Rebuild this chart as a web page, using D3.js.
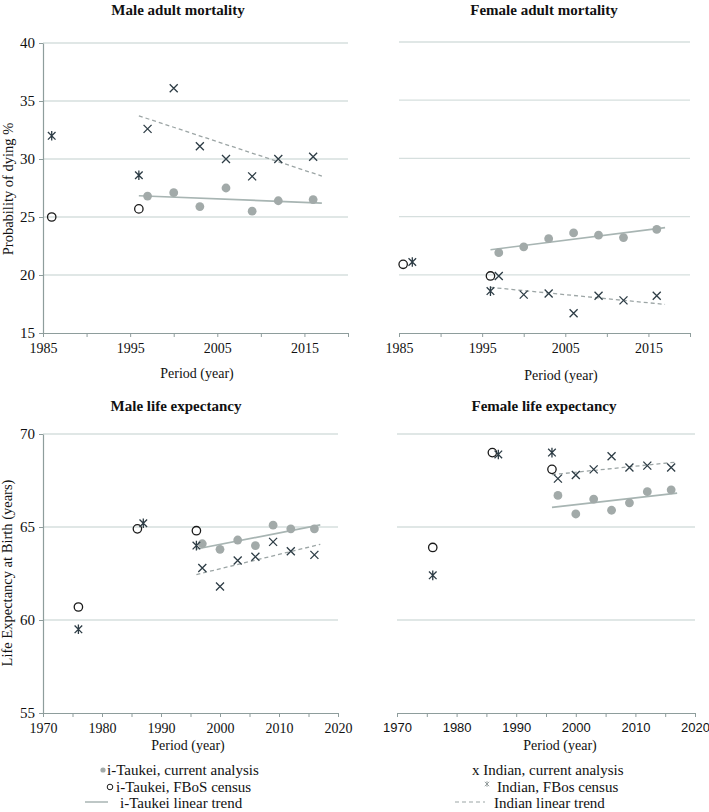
<!DOCTYPE html>
<html><head><meta charset="utf-8">
<script src="https://cdn.jsdelivr.net/npm/d3@7"></script>
<style>
body{margin:0;background:#fff}
svg{display:block}
text{font-family:"Liberation Serif","Times New Roman",serif;fill:#111}
</style>
</head><body><svg id="c" width="709" height="812"></svg>
<script>
// ---------------- DATA ----------------
const analysisYears = [1997, 2000, 2003, 2006, 2009, 2012, 2016];
const trendSpan = [1996, 2017];

// Male adult mortality (probability of dying %)
const maleAM_iTaukei = [26.8, 27.1, 25.9, 27.5, 25.5, 26.4, 26.5];
const maleAM_indian  = [32.6, 36.1, 31.1, 30.0, 28.5, 30.0, 30.2];
const maleAM_iTaukeiCensusYears = [1986, 1996];
const maleAM_iTaukeiCensus      = [25.0, 25.7];
const maleAM_indianCensusYears  = [1986, 1996];
const maleAM_indianCensus       = [32.0, 28.6];

// Female adult mortality
const femaleAM_iTaukei = [21.9, 22.4, 23.1, 23.6, 23.4, 23.2, 23.9];
const femaleAM_indian  = [19.9, 18.3, 18.4, 16.7, 18.2, 17.8, 18.2];
const femaleAM_iTaukeiCensusYears = [1985.5, 1996];
const femaleAM_iTaukeiCensus      = [20.9, 19.9];
const femaleAM_indianCensusYears  = [1986.6, 1996];
const femaleAM_indianCensus       = [21.1, 18.6];

// Male life expectancy (years)
const maleLE_iTaukei = [64.1, 63.8, 64.3, 64.0, 65.1, 64.9, 64.9];
const maleLE_indian  = [62.8, 61.8, 63.2, 63.4, 64.2, 63.7, 63.5];
const maleLE_iTaukeiCensusYears = [1976, 1986, 1996];
const maleLE_iTaukeiCensus      = [60.7, 64.9, 64.8];
const maleLE_indianCensusYears  = [1976, 1987, 1996];
const maleLE_indianCensus       = [59.5, 65.2, 64.0];

// Female life expectancy
const femaleLE_iTaukei = [66.7, 65.7, 66.5, 65.9, 66.3, 66.9, 67.0];
const femaleLE_indian  = [67.6, 67.8, 68.1, 68.8, 68.2, 68.3, 68.2];
const femaleLE_iTaukeiCensusYears = [1976, 1986, 1996];
const femaleLE_iTaukeiCensus      = [63.9, 69.0, 68.1];
const femaleLE_indianCensusYears  = [1976, 1987, 1996];
const femaleLE_indianCensus       = [62.4, 68.9, 69.0];

// Axis ticks / labels
const mortYTicks = [15, 20, 25, 30, 35, 40];
const mortXTicks = [1985, 1990, 1995, 2000, 2005, 2010, 2015, 2020];
const mortXLabels = [1985, 1995, 2005, 2015];
const leYTicks = [55, 60, 65, 70];
const leXTicks = [1970, 1975, 1980, 1985, 1990, 1995, 2000, 2005, 2010, 2015, 2020];
const leXLabels = [1970, 1980, 1990, 2000, 2010, 2020];

const titles = ["Male adult mortality", "Female adult mortality", "Male life expectancy", "Female life expectancy"];
const xTitle = "Period (year)";
const yTitleMort = "Probability of dying %";
const yTitleLE = "Life Expectancy at Birth (years)";
const legendLeft = ["i-Taukei, current analysis", "i-Taukei, FBoS census", "i-Taukei linear trend"];
const legendRight = ["x Indian, current analysis", "Indian, FBos census", "Indian linear trend"];

// ---------------- STYLE ----------------
const C = {
  grid: "#d6dfde", axis: "#8e9d9c", dot: "#a2aaa9", cross: "#2d3c45",
  trendT: "#a8b5b3", trendI: "#9ca5a5"
};
const SERIF = "'Liberation Serif','Times New Roman',serif";

const svg = d3.select("#c");

function linReg(xs, ys) {
  const n = xs.length, mx = d3.mean(xs), my = d3.mean(ys);
  let sxy = 0, sxx = 0;
  for (let i = 0; i < n; i++) { sxy += (xs[i]-mx)*(ys[i]-my); sxx += (xs[i]-mx)**2; }
  const b = sxy / sxx; return x => my + b*(x - mx);
}

function panel(cfg) {
  const x = d3.scaleLinear().domain(cfg.xDom).range([cfg.x0, cfg.x1]);
  const y = d3.scaleLinear().domain(cfg.yDom).range([cfg.yB, cfg.yT]);
  const g = svg.append("g");

  // gridlines
  g.selectAll("line.grid").data(cfg.yTicks.filter(v => v !== cfg.yDom[0])).enter()
    .append("line").attr("x1", cfg.x0).attr("x2", cfg.x1)
    .attr("y1", d => y(d)).attr("y2", d => y(d))
    .attr("stroke", C.grid).attr("stroke-width", 1.3);

  // x axis
  const xa = g.append("g").attr("transform", `translate(0,${cfg.yB})`)
    .call(d3.axisBottom(x).tickValues(cfg.xTicks).tickSizeInner(4).tickSizeOuter(0).tickPadding(6)
      .tickFormat(d => cfg.xLabels.includes(d) ? String(d) : ""));
  xa.attr("font-family", null);
  xa.select(".domain").attr("stroke", C.axis).attr("stroke-width", 1.2);
  xa.selectAll(".tick line").attr("stroke", C.axis);
  xa.selectAll(".tick text").attr("fill", "#111")
    .style("font-family", cfg.xSans ? "'Liberation Sans',Arial,sans-serif" : SERIF)
    .style("font-size", cfg.xFont + "px");

  // y axis
  if (cfg.yAxis) {
    const ya = g.append("g").attr("transform", `translate(${cfg.x0},0)`)
      .call(d3.axisLeft(y).tickValues(cfg.yTicks).tickSizeInner(4).tickSizeOuter(0).tickPadding(4).tickFormat(d3.format("d")));
    ya.attr("font-family", null);
    ya.select(".domain").attr("stroke", C.axis).attr("stroke-width", 1.2);
    ya.selectAll(".tick line").attr("stroke", C.axis);
    ya.selectAll(".tick text").attr("fill", "#111").style("font-family", SERIF).style("font-size", "15px");
    g.append("text").attr("transform", `translate(${cfg.yTitleX},${cfg.yTitleY}) rotate(-90)`)
      .attr("text-anchor", "middle").style("font-size", "14.5px").text(cfg.yTitle);
  }

  // titles
  g.append("text").attr("x", cfg.titleX).attr("y", cfg.titleY).attr("text-anchor", "middle")
    .style("font-size", "15px").style("font-weight", "bold").text(cfg.title);
  g.append("text").attr("x", cfg.xTitleX).attr("y", cfg.xTitleY).attr("text-anchor", "middle")
    .style("font-size", "14px").text(xTitle);

  // trend lines
  const fT = linReg(analysisYears, cfg.iTaukei), fI = linReg(analysisYears, cfg.indian);
  g.append("line").attr("x1", x(trendSpan[0])).attr("x2", x(trendSpan[1]))
    .attr("y1", y(fT(trendSpan[0]))).attr("y2", y(fT(trendSpan[1])))
    .attr("stroke", C.trendT).attr("stroke-width", 1.7);
  g.append("line").attr("x1", x(trendSpan[0])).attr("x2", x(trendSpan[1]))
    .attr("y1", y(fI(trendSpan[0]))).attr("y2", y(fI(trendSpan[1])))
    .attr("stroke", C.trendI).attr("stroke-width", 1.3).attr("stroke-dasharray", "4,3");

  // i-Taukei current (filled dots)
  g.selectAll("circle.dot").data(analysisYears.map((yr, i) => [yr, cfg.iTaukei[i]])).enter()
    .append("circle").attr("cx", d => x(d[0])).attr("cy", d => y(d[1])).attr("r", 4.4).attr("fill", C.dot);
  // i-Taukei census (open circles)
  g.selectAll("circle.open").data(cfg.tcYears.map((yr, i) => [yr, cfg.tc[i]])).enter()
    .append("circle").attr("cx", d => x(d[0])).attr("cy", d => y(d[1])).attr("r", 4.2)
    .attr("fill", "none").attr("stroke", "#1a1a1a").attr("stroke-width", 1.3);
  // Indian current (x)
  g.selectAll("path.x").data(analysisYears.map((yr, i) => [yr, cfg.indian[i]])).enter()
    .append("path").attr("transform", d => `translate(${x(d[0])},${y(d[1])})`)
    .attr("d", "M-4,-4L4,4M4,-4L-4,4").attr("stroke", C.cross).attr("stroke-width", 1.3).attr("fill", "none");
  // Indian census (asterisk)
  g.selectAll("path.ast").data(cfg.icYears.map((yr, i) => [yr, cfg.ic[i]])).enter()
    .append("path").attr("transform", d => `translate(${x(d[0])},${y(d[1])})`)
    .attr("d", "M-3.8,-3.8L3.8,3.8M3.8,-3.8L-3.8,3.8M0,-4.8V4.8").attr("stroke", C.cross).attr("stroke-width", 1.3).attr("fill", "none");
}

panel({x0: 43, x1: 348, yB: 333, yT: 43, xDom: [1985, 2020], yDom: [15, 40],
  yTicks: mortYTicks, xTicks: mortXTicks, xLabels: mortXLabels, xFont: 14, yAxis: true,
  yTitle: yTitleMort, yTitleX: 13, yTitleY: 189, title: titles[0], titleX: 178, titleY: 15,
  xTitleX: 197, xTitleY: 378,
  iTaukei: maleAM_iTaukei, indian: maleAM_indian,
  tcYears: maleAM_iTaukeiCensusYears, tc: maleAM_iTaukeiCensus,
  icYears: maleAM_indianCensusYears, ic: maleAM_indianCensus});

panel({x0: 399, x1: 690, yB: 333, yT: 42, xDom: [1985, 2020], yDom: [15, 40],
  yTicks: mortYTicks, xTicks: mortXTicks, xLabels: mortXLabels, xFont: 14, yAxis: false,
  title: titles[1], titleX: 544, titleY: 15, xTitleX: 561, xTitleY: 380,
  iTaukei: femaleAM_iTaukei, indian: femaleAM_indian,
  tcYears: femaleAM_iTaukeiCensusYears, tc: femaleAM_iTaukeiCensus,
  icYears: femaleAM_indianCensusYears, ic: femaleAM_indianCensus});

panel({x0: 43, x1: 338, yB: 713, yT: 434, xDom: [1970, 2020], yDom: [55, 70],
  yTicks: leYTicks, xTicks: leXTicks, xLabels: leXLabels, xFont: 14, yAxis: true,
  yTitle: yTitleLE, yTitleX: 12, yTitleY: 573, title: titles[2], titleX: 176, titleY: 411,
  xTitleX: 188, xTitleY: 750,
  iTaukei: maleLE_iTaukei, indian: maleLE_indian,
  tcYears: maleLE_iTaukeiCensusYears, tc: maleLE_iTaukeiCensus,
  icYears: maleLE_indianCensusYears, ic: maleLE_indianCensus});

panel({x0: 397, x1: 695, yB: 713, yT: 434, xDom: [1970, 2020], yDom: [55, 70],
  yTicks: leYTicks, xTicks: leXTicks, xLabels: leXLabels, xFont: 13, xSans: true, yAxis: false,
  title: titles[3], titleX: 544, titleY: 411, xTitleX: 560, xTitleY: 750,
  iTaukei: femaleLE_iTaukei, indian: femaleLE_indian,
  tcYears: femaleLE_iTaukeiCensusYears, tc: femaleLE_iTaukeiCensus,
  icYears: femaleLE_indianCensusYears, ic: femaleLE_indianCensus});

// ---------------- LEGEND ----------------
const legY = [770, 787, 803];
const lg = svg.append("g").style("font-size", "15px");
lg.append("circle").attr("cx", 103).attr("cy", legY[0]).attr("r", 2.6).attr("fill", C.dot);
lg.append("text").attr("x", 107).attr("y", legY[0] + 5).text(legendLeft[0]);
lg.append("circle").attr("cx", 110).attr("cy", legY[1]).attr("r", 2.8).attr("fill", "none").attr("stroke", "#1a1a1a").attr("stroke-width", 1);
lg.append("text").attr("x", 116).attr("y", legY[1] + 5).text(legendLeft[1]);
lg.append("line").attr("x1", 85).attr("x2", 108).attr("y1", legY[2] - 1).attr("y2", legY[2] - 1).attr("stroke", C.trendT).attr("stroke-width", 1.5);
lg.append("text").attr("x", 120).attr("y", legY[2] + 4.5).text(legendLeft[2]);

lg.append("text").attr("x", 472).attr("y", legY[0] + 5).text(legendRight[0]);
lg.append("path").attr("transform", `translate(487,${legY[1] - 3})`)
  .attr("d", "M-2.2,-2.2L2.2,2.2M2.2,-2.2L-2.2,2.2M0,-2.8V2.8").attr("stroke", "#8d9696").attr("stroke-width", 0.9);
lg.append("text").attr("x", 497).attr("y", legY[1] + 5).text(legendRight[1]);
lg.append("line").attr("x1", 455).attr("x2", 485).attr("y1", legY[2] - 1).attr("y2", legY[2] - 1)
  .attr("stroke", C.trendI).attr("stroke-width", 1.2).attr("stroke-dasharray", "4,3");
lg.append("text").attr("x", 494).attr("y", legY[2] + 4.5).text(legendRight[2]);
</script>
</body></html>
